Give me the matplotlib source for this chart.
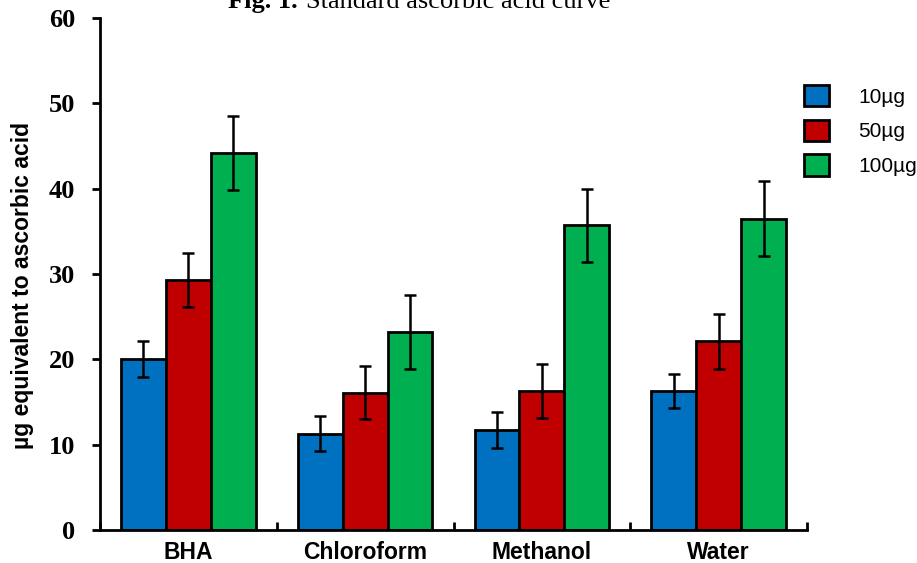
import numpy as np
import matplotlib.pyplot as plt
from matplotlib.patches import Patch

# data
solvents = ["BHA", "Chloroform", "Methanol", "Water"]
doses = ["10µg", "50µg", "100µg"]
vals_10 = [20.0, 11.3, 11.7, 16.3]
vals_50 = [29.3, 16.1, 16.3, 22.1]
vals_100 = [44.2, 23.2, 35.7, 36.5]
err_10 = [2.1, 2.1, 2.1, 2.0]
err_50 = [3.2, 3.1, 3.2, 3.2]
err_100 = [4.3, 4.3, 4.3, 4.4]
colors = ["#0070C0", "#C00000", "#00B050"]

fig = plt.figure(figsize=(9.17, 5.63), dpi=100)
ax = fig.add_axes([100/917, 1-530/563, 707/917, 512/563])

x = np.arange(len(solvents))
w = 0.254
series = [vals_10, vals_50, vals_100]
errs = [err_10, err_50, err_100]
for i in range(3):
    ax.bar(x + (i-1)*w, series[i], w, color=colors[i], edgecolor='black', linewidth=2,
           yerr=errs[i], capsize=4, error_kw=dict(elinewidth=1.8, capthick=1.8, ecolor='black'),
           zorder=2)

ax.set_xlim(-0.5, 3.5)
ax.set_ylim(0, 60)
ax.spines['top'].set_visible(False)
ax.spines['right'].set_visible(False)
ax.spines['left'].set_linewidth(2)
ax.spines['bottom'].set_linewidth(2)

ax.set_yticks(range(0, 61, 10))
ax.set_yticklabels([str(v) for v in range(0, 61, 10)], fontfamily='Liberation Serif',
                   fontweight='bold', fontsize=19)
ax.tick_params(axis='y', length=6, width=2, pad=12)

ax.set_xticks(x)
ax.set_xticklabels(solvents, fontfamily='Liberation Sans', fontweight='bold', fontsize=16.5)
ax.tick_params(axis='x', which='major', length=0, pad=8)
ax.set_xticks(np.arange(-0.5, 3.6, 1.0), minor=True)
ax.tick_params(axis='x', which='minor', direction='in', length=6, width=2)

ax.set_ylabel("µg equivalent to ascorbic acid", fontfamily='Liberation Sans',
              fontweight='bold', fontsize=16.5)
ax.yaxis.set_label_coords(-0.094, 0.477)

handles = [Patch(facecolor=c, edgecolor='black', linewidth=2) for c in colors]
fig.legend(handles, doses, loc='upper left', bbox_to_anchor=(804/917, 1-85/563),
           frameon=False, handlelength=1.2, handleheight=1.2,
           labelspacing=0.62, handletextpad=1.4, borderpad=0, borderaxespad=0,
           prop={'family': 'Liberation Sans', 'size': 15})

fig.text(298/917, 1-8/563, "Fig. 1.", ha='right', va='baseline',
         fontfamily='Liberation Serif', fontweight='bold', fontsize=19)
fig.text(306/917, 1-8/563, "Standard ascorbic acid curve", ha='left', va='baseline',
         fontfamily='Liberation Serif', fontsize=19)

fig.savefig("out.png", dpi=100)
